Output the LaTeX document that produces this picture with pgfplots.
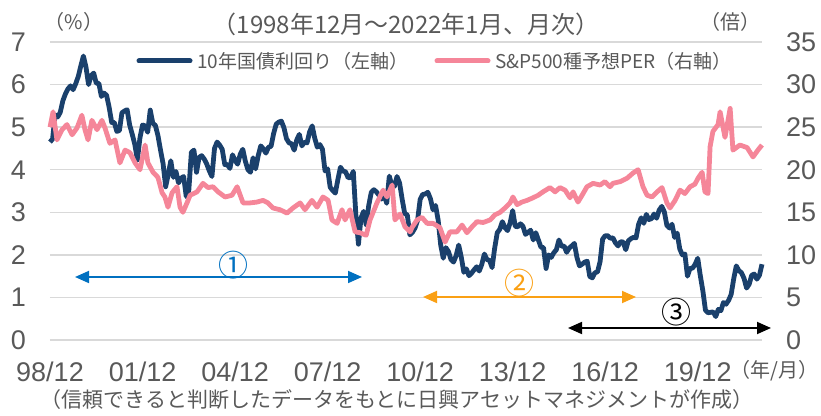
\documentclass[border=0pt]{standalone}
\usepackage{pgfplots}
\pgfplotsset{compat=1.18}
\usetikzlibrary{arrows.meta}
\usepackage{fontspec}
\setmainfont{Liberation Sans}
\newfontfamily\jp{Noto Sans CJK JP}
\definecolor{navy}{RGB}{26,64,108}
\definecolor{pinkl}{RGB}{245,134,153}
\definecolor{txt}{RGB}{89,89,89}
\definecolor{gridc}{RGB}{217,217,217}
\definecolor{arrblue}{RGB}{0,112,192}
\definecolor{arrorange}{RGB}{250,160,20}

\pgfplotstableread{
m y
0 4.65
1 4.72
2 5.29
3 5.24
4 5.35
5 5.62
6 5.78
7 5.90
8 5.97
9 5.88
10 6.02
11 6.19
12 6.44
13 6.67
14 6.41
15 6.00
16 6.21
17 6.27
18 6.03
19 6.03
20 5.72
21 5.80
22 5.75
23 5.47
24 5.11
25 5.11
26 4.90
27 4.92
28 5.34
29 5.38
30 5.41
31 5.05
32 4.83
33 4.59
34 4.23
35 4.75
36 5.05
37 5.03
38 4.88
39 5.40
40 5.09
41 5.04
42 4.80
43 4.46
44 4.14
45 3.60
46 3.89
47 4.21
48 3.82
49 3.96
50 3.69
51 3.80
52 3.84
53 3.37
54 3.51
55 4.41
56 4.46
57 3.94
58 4.29
59 4.33
60 4.25
61 4.13
62 3.97
63 3.84
64 4.50
65 4.65
66 4.58
67 4.48
68 4.12
69 4.12
70 4.03
71 4.35
72 4.22
73 4.13
74 4.36
75 4.48
76 4.20
77 4.00
78 3.94
79 4.28
80 4.02
81 4.33
82 4.56
83 4.49
84 4.39
85 4.53
86 4.55
87 4.85
88 5.07
89 5.12
90 5.14
91 4.99
92 4.73
93 4.63
94 4.61
95 4.46
96 4.70
97 4.83
98 4.56
99 4.65
100 4.63
101 4.89
102 5.03
103 4.74
104 4.53
105 4.59
106 4.48
107 3.97
108 4.02
109 3.59
110 3.51
111 3.45
112 3.77
113 4.06
114 3.97
115 3.95
116 3.81
117 3.82
118 3.96
119 2.93
120 2.25
121 2.87
122 3.02
123 2.71
124 3.16
125 3.47
126 3.53
127 3.48
128 3.40
129 3.31
130 3.41
131 3.21
132 3.85
133 3.63
134 3.61
135 3.84
136 3.69
137 3.31
138 2.97
139 2.94
140 2.47
141 2.53
142 2.63
143 2.81
144 3.30
145 3.42
146 3.43
147 3.47
148 3.32
149 3.06
150 3.16
151 2.82
152 2.23
153 1.92
154 2.17
155 2.08
156 1.89
157 1.83
158 1.98
159 2.23
160 1.95
161 1.59
162 1.67
163 1.51
164 1.57
165 1.65
166 1.72
167 1.62
168 1.78
169 2.02
170 1.89
171 1.87
172 1.70
173 2.16
174 2.52
175 2.60
176 2.78
177 2.64
178 2.57
179 2.75
180 3.04
181 2.67
182 2.66
183 2.73
184 2.67
185 2.48
186 2.53
187 2.58
188 2.35
189 2.52
190 2.35
191 2.18
192 2.17
193 1.68
194 2.00
195 1.94
196 2.05
197 2.12
198 2.35
199 2.20
200 2.21
201 2.06
202 2.16
203 2.21
204 2.27
205 1.94
206 1.74
207 1.78
208 1.83
209 1.85
210 1.49
211 1.46
212 1.58
213 1.60
214 1.84
215 2.37
216 2.45
217 2.45
218 2.39
219 2.40
220 2.28
221 2.21
222 2.31
223 2.30
224 2.12
225 2.33
226 2.38
227 2.41
228 2.40
229 2.72
230 2.87
231 2.74
232 2.95
233 2.83
234 2.85
235 2.96
236 2.86
237 3.05
238 3.14
239 3.01
240 2.69
241 2.63
242 2.72
243 2.41
244 2.51
245 2.14
246 2.00
247 2.02
248 1.50
249 1.68
250 1.69
251 1.78
252 1.92
253 1.51
254 1.15
255 0.70
256 0.64
257 0.65
258 0.66
259 0.55
260 0.72
261 0.69
262 0.88
263 0.84
264 0.93
265 1.07
266 1.44
267 1.74
268 1.63
269 1.58
270 1.45
271 1.22
272 1.31
273 1.52
274 1.55
275 1.43
276 1.52
277 1.78
}\bond

\pgfplotstableread{
m y
0 25.0
1.2 26.8
2.7 23.5
4.7 24.7
6.6 25.3
8.6 24.1
10.5 24.9
12.4 26.4
13.6 24.7
14.8 23.5
16.3 25.8
18.3 24.7
20.2 25.8
21.4 24.9
23.3 23.1
25.3 23.5
27.2 20.8
29.2 22.3
31.1 22.0
33.1 20.8
35.0 20.0
37.0 22.9
38.1 20.8
40.1 19.7
42.0 19.1
43.6 17.3
44.7 16.8
45.9 15.6
47.5 17.3
49.4 18.0
50.6 15.6
51.7 15.0
53.3 16.1
54.5 17.0
57.2 17.4
59.5 18.4
61.5 17.9
63.4 18.0
65.4 17.4
68.1 16.8
70.8 17.0
72.8 18.0
75.1 16.1
77.8 16.1
80.5 16.2
82.9 16.4
84.8 16.1
86.8 15.5
89.5 15.3
92.2 14.9
94.5 15.5
97.3 16.1
99.2 15.3
101.9 16.4
103.9 15.6
106.2 16.8
108.2 16.4
109.7 14.1
111.7 13.7
113.6 15.3
114.8 14.1
116.7 15.3
118.7 12.7
120.6 12.6
123.0 12.3
124.5 14.1
127.2 16.1
129.6 17.6
131.1 16.8
133.1 18.2
134.2 14.1
136.2 14.8
138.1 13.3
140.1 12.7
140.8 13.2
142.8 14.1
144.7 14.4
146.7 13.7
149.0 13.7
151.7 13.2
153.7 11.5
155.6 12.7
158.3 12.7
160.3 13.5
162.2 12.6
164.2 13.3
166.1 13.9
168.5 13.8
171.2 14.1
173.1 14.7
175.1 15.0
177.0 15.5
179.0 16.1
180.1 16.8
181.7 15.9
183.6 16.2
185.6 16.4
187.9 16.7
189.9 17.0
191.8 17.4
194.5 17.9
196.5 17.4
198.4 17.9
200.4 17.6
202.3 16.7
203.5 17.4
205.4 16.2
207.0 17.0
208.9 18.0
211.3 18.4
214.0 18.2
215.9 18.6
217.9 18.0
219.0 18.4
221.8 18.6
224.5 19.0
226.8 19.6
228.8 20.0
230.7 18.0
232.3 17.0
234.2 16.8
236.2 17.4
238.1 17.9
240.0 16.1
241.2 15.5
243.2 16.4
245.1 17.6
247.0 17.2
249.0 18.0
250.9 18.3
252.1 19.0
253.7 19.7
254.8 17.4
256.0 17.2
256.8 22.7
257.9 24.5
259.9 25.3
260.7 26.8
262.6 23.8
264.6 27.2
265.7 22.3
268.4 22.9
271.2 22.6
273.5 21.5
275.4 22.3
277 22.9
}\per

\begin{document}
\begin{tikzpicture}
\useasboundingbox (0,0) rectangle (821bp,416bp);
\begin{axis}[at={(50bp,76bp)}, anchor=south west, scale only axis,
  width=712bp, height=298bp,
  xmin=0, xmax=277, ymin=0, ymax=7,
  axis line style={draw=none}, major tick length=0pt,
  ytick={0,...,7}, ymajorgrids, grid style={gridc, line width=1.5bp},
  xtick={0,36,...,252},
  xticklabels={98/12,01/12,04/12,07/12,10/12,13/12,16/12,19/12},
  xticklabel style={anchor=north, inner sep=0pt, yshift=-22bp,
    font=\fontsize{27bp}{29bp}\selectfont, text=txt},
  yticklabel style={anchor=east, inner sep=0pt, xshift=-24bp,
    font=\fontsize{27bp}{29bp}\selectfont, text=txt},
  /pgf/number format/assume math mode=true,
  clip=false]
\addplot[navy, line width=4.8bp, line join=round] table[x=m, y=y] {\bond};
\end{axis}
\begin{axis}[at={(50bp,76bp)}, anchor=south west, scale only axis,
  width=712bp, height=298bp,
  xmin=0, xmax=277, ymin=0, ymax=35,
  axis x line=none, axis y line*=right,
  axis line style={draw=none}, major tick length=0pt,
  ytick={0,5,...,35},
  yticklabel style={anchor=west, inner sep=0pt, xshift=24bp,
    font=\fontsize{27bp}{29bp}\selectfont, text=txt},
  /pgf/number format/assume math mode=true,
  clip=false]
\addplot[pinkl, line width=4.8bp, line join=round] table[x=m, y=y] {\per};
\end{axis}

% header texts
\node[text=txt, font=\jp\fontsize{24bp}{26bp}\selectfont] at (406bp,392bp) {（1998年12月～2022年1月、月次）};
\node[text=txt, font=\jp\fontsize{20bp}{22bp}\selectfont] at (74bp,394bp) {（\%）};
\node[text=txt, font=\jp\fontsize{20bp}{22bp}\selectfont] at (730bp,394bp) {（倍）};

% legend
\draw[navy, line width=5bp, line cap=round] (139bp,355bp) -- (190bp,355bp);
\node[anchor=west, inner sep=0pt, text=txt, font=\jp\fontsize{19bp}{21bp}\selectfont] at (197bp,355bp) {10年国債利回り（左軸）};
\draw[pinkl, line width=5bp, line cap=round] (437bp,355bp) -- (488bp,355bp);
\node[anchor=west, inner sep=0pt, text=txt, font=\jp\fontsize{19bp}{21bp}\selectfont] at (495bp,355bp) {S\&P500種予想PER（右軸）};

% x unit
\node[anchor=east, inner sep=0pt, text=txt, font=\jp\fontsize{20bp}{22bp}\selectfont] at (819bp,45bp) {（年/月）};
% source
\node[text=txt, font=\jp\fontsize{21bp}{23bp}\selectfont] at (397bp,16bp) {（信頼できると判断したデータをもとに日興アセットマネジメントが作成）};

% period arrows
\draw[arrblue, line width=1.8bp, {Triangle[length=14bp,width=12bp]}-{Triangle[length=14bp,width=12bp]}] (75bp,139bp) -- (362bp,139bp);
\node[text=arrblue, font=\jp\fontsize{30bp}{32bp}\selectfont] at (233bp,151bp) {①};
\draw[arrorange, line width=1.8bp, {Triangle[length=14bp,width=12bp]}-{Triangle[length=14bp,width=12bp]}] (423bp,119bp) -- (636bp,119bp);
\node[text=arrorange, font=\jp\fontsize{30bp}{32bp}\selectfont] at (519bp,133bp) {②};
\draw[black, line width=1.8bp, {Triangle[length=14bp,width=12bp]}-{Triangle[length=14bp,width=12bp]}] (568bp,88bp) -- (771bp,88bp);
\node[text=black, font=\jp\fontsize{30bp}{32bp}\selectfont] at (676bp,104bp) {③};
\end{tikzpicture}
\end{document}
